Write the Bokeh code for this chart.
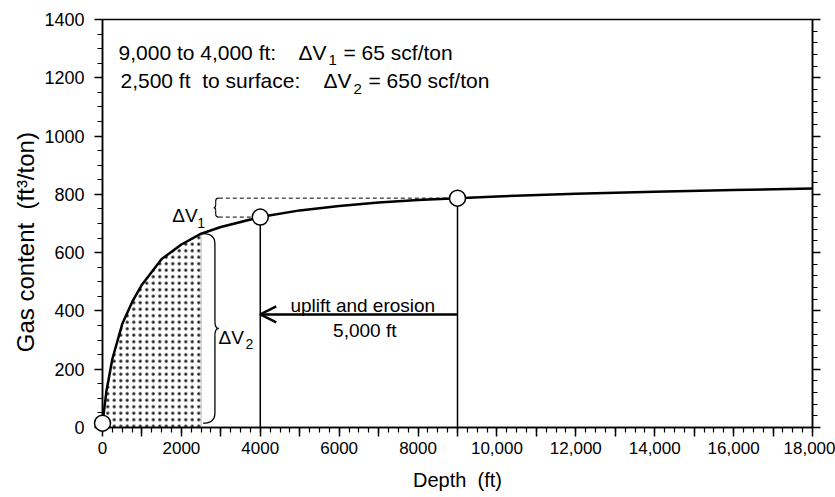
from math import pi

from bokeh.plotting import figure
from bokeh.models import (Range1d, LinearAxis, FixedTicker, Arrow, OpenHead, Label)
from bokeh.core.properties import value
from bokeh.embed import file_html
from bokeh.resources import INLINE

# ---- data -------------------------------------------------------------
# gas content (scf/ton) versus burial depth (ft)
depth_ft = [0, 100, 250, 500, 750, 1000, 1500, 2000, 2500, 3000, 4000, 5000,
            6000, 7000, 8000, 9000, 10000, 12000, 14000, 16000, 18000]
gas_content = [15, 125, 235, 355, 430, 490, 578, 628, 665, 688, 722, 745,
               760, 772, 781, 787, 793, 802, 809, 815, 820]

# marked states: surface, after uplift (4,000 ft), before uplift (9,000 ft)
marker_depth = [0, 4000, 9000]
marker_gas = [15, 722, 787]

shade_depth = 2500          # desorbed zone, surface to 2,500 ft
uplift_start = 9000
uplift_end = 4000
arrow_gas = 388

x_tick_values = [0, 2000, 4000, 6000, 8000, 10000, 12000, 14000, 16000, 18000]
x_tick_labels = ["0", "2000", "4000", "6000", "8000", "10,000", "12,000",
                 "14,000", "16,000", "18,000"]
y_tick_values = [0, 200, 400, 600, 800, 1000, 1200, 1400]
y_tick_labels = ["0", "200", "400", "600", "800", "1000", "1200", "1400"]

FONT = "Liberation Sans"
SP2 = "\u00a0 "   # double space that survives SVG whitespace collapsing

# ---- figure -----------------------------------------------------------
p = figure(width=835, height=497, output_backend="svg", toolbar_location=None,
           x_range=Range1d(0, 18000), y_range=Range1d(0, 1400),
           min_border_left=102, min_border_right=23, min_border_top=19,
           min_border_bottom=70)
p.grid.visible = False
p.outline_line_color = "black"
p.outline_line_width = 1.5
p.background_fill_color = "white"
p.border_fill_color = "white"

# bottom axis: major tick every 1000 ft, labelled every 2000 ft, minor every 250 ft
xax = p.xaxis[0]
xax.ticker = FixedTicker(ticks=list(range(0, 18001, 1000)),
                         minor_ticks=list(range(0, 18001, 250)))
overrides = {t: "" for t in range(0, 18001, 1000)}
for v, lab in zip(x_tick_values, x_tick_labels):
    overrides[v] = lab
xax.major_label_overrides = overrides
xax.axis_label = "Depth" + SP2 + "(ft)"

# left axis: labelled every 200, minor every 50
yax = p.yaxis[0]
yax.ticker = FixedTicker(ticks=y_tick_values, minor_ticks=list(range(0, 1401, 50)))
yax.major_label_overrides = dict(zip(y_tick_values, y_tick_labels))

# right axis: ticks only, minor every 40
rax = LinearAxis(ticker=FixedTicker(ticks=y_tick_values,
                                    minor_ticks=list(range(0, 1401, 40))),
                 major_label_overrides={v: "" for v in y_tick_values})
p.add_layout(rax, "right")

for ax in (xax, yax, rax):
    ax.axis_line_color = "black"
    ax.axis_line_width = 1.5
    ax.major_tick_line_color = "black"
    ax.minor_tick_line_color = "black"
    ax.major_tick_line_width = 1.5
    ax.minor_tick_line_width = 1.2
    ax.major_tick_in = 0
    ax.minor_tick_in = 0
    ax.major_tick_out = 8
    ax.minor_tick_out = 5
    ax.major_label_text_font = FONT
    ax.major_label_text_color = "black"
    ax.axis_label_text_font = FONT
    ax.axis_label_text_font_style = "normal"
    ax.axis_label_text_color = "black"

xax.major_tick_out = 9
xax.major_label_text_font_size = "17px"
xax.major_label_standoff = 5
xax.axis_label_text_font_size = "20px"
xax.axis_label_standoff = 12
yax.major_label_text_font_size = "18px"
yax.major_label_standoff = 10

# ---- shaded desorption zone --------------------------------------------
sx = [d for d in depth_ft if d <= shade_depth]
sy = [g for d, g in zip(depth_ft, gas_content) if d <= shade_depth]
p.varea(x=sx, y1=[0] * len(sx), y2=sy, fill_color="white", fill_alpha=0,
        hatch_pattern="dot", hatch_color="#222222", hatch_scale=6.5,
        hatch_weight=0.9)
p.segment(x0=[shade_depth], y0=[0], x1=[shade_depth], y1=[sy[-1]],
          line_color="#777777", line_width=1, line_dash="1 1")

# ---- drop lines from the marked states ------------------------------------
p.segment(x0=marker_depth[1:], y0=[0, 0], x1=marker_depth[1:], y1=marker_gas[1:],
          line_color="black", line_width=1.5)

# ---- gas content curve ---------------------------------------------------
p.line(depth_ft, gas_content, line_color="black", line_width=2.5)

# ---- delta V1 guides -------------------------------------------------------
brace1_end = 2948
p.segment(x0=[brace1_end, brace1_end], y0=[marker_gas[2], marker_gas[1]],
          x1=[marker_depth[2], marker_depth[1]], y1=[marker_gas[2], marker_gas[1]],
          line_color="black", line_width=1, line_dash="4 3")


def brace(x_end, x_spine, x_tip, y_lo, y_hi, end_r, tip_r, width=1.3):
    """Curly brace between y_lo and y_hi; ends at x_end, point at x_tip."""
    ym = (y_lo + y_hi) / 2
    p.quadratic(x0=[x_end, x_spine, x_tip, x_spine],
                y0=[y_hi, ym + tip_r, ym, y_lo + end_r],
                x1=[x_spine, x_tip, x_spine, x_end],
                y1=[y_hi - end_r, ym, ym - tip_r, y_lo],
                cx=[x_spine, x_spine, x_spine, x_spine],
                cy=[y_hi, ym, ym, y_lo],
                line_color="black", line_width=width)
    p.segment(x0=[x_spine, x_spine], y0=[y_hi - end_r, ym - tip_r],
              x1=[x_spine, x_spine], y1=[ym + tip_r, y_lo + end_r],
              line_color="black", line_width=width)


brace(2550, 2850, 2945, marker_gas[0], sy[-1], 35, 25)
brace(brace1_end, 2870, 2822, marker_gas[1], marker_gas[2], 10, 10, width=1.1)

# ---- marked states (drawn over the axes) -------------------------------------
r = p.scatter(marker_depth, marker_gas, size=16, fill_color="white",
              line_color="black", line_width=1.5)
r.level = "overlay"

# ---- uplift arrow ---------------------------------------------------------------
p.add_layout(Arrow(end=OpenHead(size=16, line_width=2.5, line_color="black"),
                   x_start=uplift_start, y_start=arrow_gas,
                   x_end=uplift_end, y_end=arrow_gas,
                   line_width=2.5, line_color="black"))


def label(x, y, text, size, align="left", baseline="alphabetic"):
    p.add_layout(Label(x=x, y=y, text=text, text_font=FONT,
                       text_font_size=f"{size}px", text_align=align,
                       text_baseline=baseline, text_color="black"))


label(6600, 418, "uplift and erosion", 19, align="center")
label(6650, 333, "5,000 ft", 19, align="center")

# delta V labels with subscripts
label(1767, 727, "\u0394V", 19)
label(2401, 701, "1", 14)
label(2941, 310, "\u0394V", 19)
label(3626, 288, "2", 14)

# summary lines
label(406, 1288, "9,000 to 4,000 ft:", 21)
label(4970, 1288, "\u0394V", 21)
label(5730, 1262, "1", 15)
label(6110, 1288, "= 65 scf/ton", 21)
label(456, 1191, "2,500 ft" + SP2 + "to surface:", 21)
label(5603, 1191, "\u0394V", 21)
label(6364, 1162, "2", 15)
label(6744, 1191, "= 650 scf/ton", 21)

# vertical axis title, drawn as an unclipped text glyph left of the axis
t = p.text(x=[-1950], y=[636], text=["Gas content" + SP2 + "(ft\u00b3/ton)"],
           angle=pi / 2, text_font=value(FONT), text_font_size="24px",
           text_align="center", text_baseline="middle", text_color="black")
t.level = "overlay"

open("out.html", "w").write(file_html(p, INLINE))
